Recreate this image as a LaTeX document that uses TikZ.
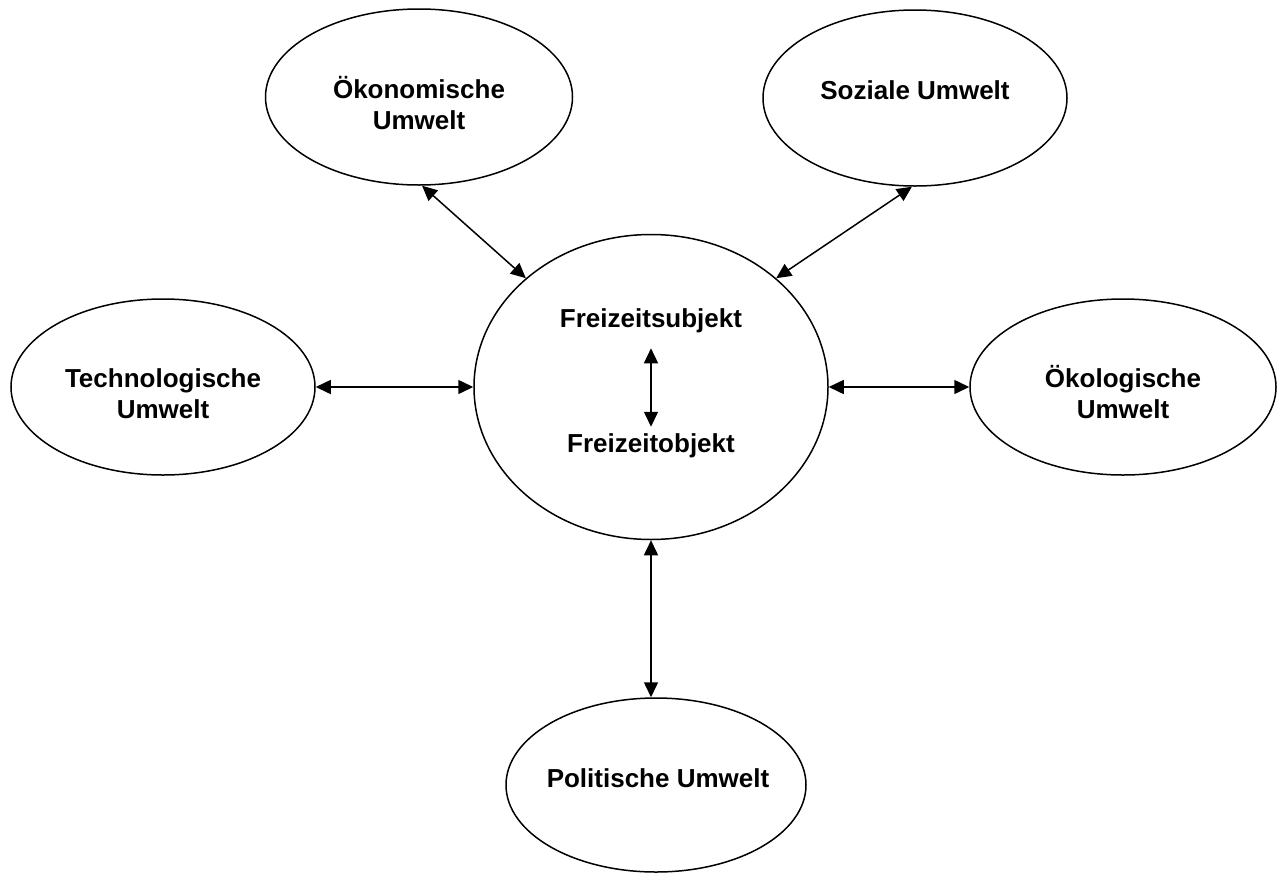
\documentclass[tikz,border=0pt]{standalone}
\usepackage{fontspec}
\setmainfont{Liberation Sans}
\usetikzlibrary{shapes.geometric,arrows.meta}
\begin{document}
\begin{tikzpicture}[x=0.5pt,y=-0.5pt,
  env/.style={draw, ellipse, line width=0.75pt, inner sep=0pt},
  lbl/.style={font=\bfseries\fontsize{13}{15.5}\selectfont, align=center, inner sep=0pt},
  conn/.style={{Triangle[length=7.5pt,width=7pt]}-{Triangle[length=7.5pt,width=7pt]}, line width=0.75pt}]
\useasboundingbox (0,0) rectangle (1280,873);

% surrounding environments
\node[env, minimum width=153.5pt, minimum height=88pt] (oek)  at (419,97)  {};
\node[env, minimum width=152pt,   minimum height=88pt] (soz)  at (915,98)  {};
\node[env, minimum width=152pt,   minimum height=88pt] (tech) at (163,387) {};
\node[env, minimum width=153pt,   minimum height=88pt] (oeko) at (1123,387) {};
\node[env, minimum width=150pt,   minimum height=87pt] (pol)  at (656,785) {};

% central ellipse
\node[env, minimum width=177pt, minimum height=152.5pt] (c) at (651,387) {};

% labels
\node[lbl] (toek)  at (419,103) {Ökonomische\\Umwelt};
\node[lbl, anchor=base] (tsoz) at (915,99) {Soziale Umwelt};
\node[lbl] (ttech) at (163,394) {Technologische\\Umwelt};
\node[lbl] (toeko) at (1123,392) {Ökologische\\Umwelt};
\node[lbl, anchor=base] (tpol) at (658,787) {Politische Umwelt};
\node[lbl, anchor=base] (subj) at (651,327) {Freizeitsubjekt};
\node[lbl, anchor=base] (obj)  at (651,452) {Freizeitobjekt};

% connectors
\draw[conn] (tech.east) -- (c.west);
\draw[conn] (c.east) -- (oeko.west);
\draw[conn] (oek.-88) -- (c.139);
\draw[conn] (soz.-92) -- (c.41);
\draw[conn] (c.south) -- (c.south |- pol.north);
\draw[conn, shorten <=7.75pt, shorten >=3pt] (subj) -- (obj);
\end{tikzpicture}
\end{document}
